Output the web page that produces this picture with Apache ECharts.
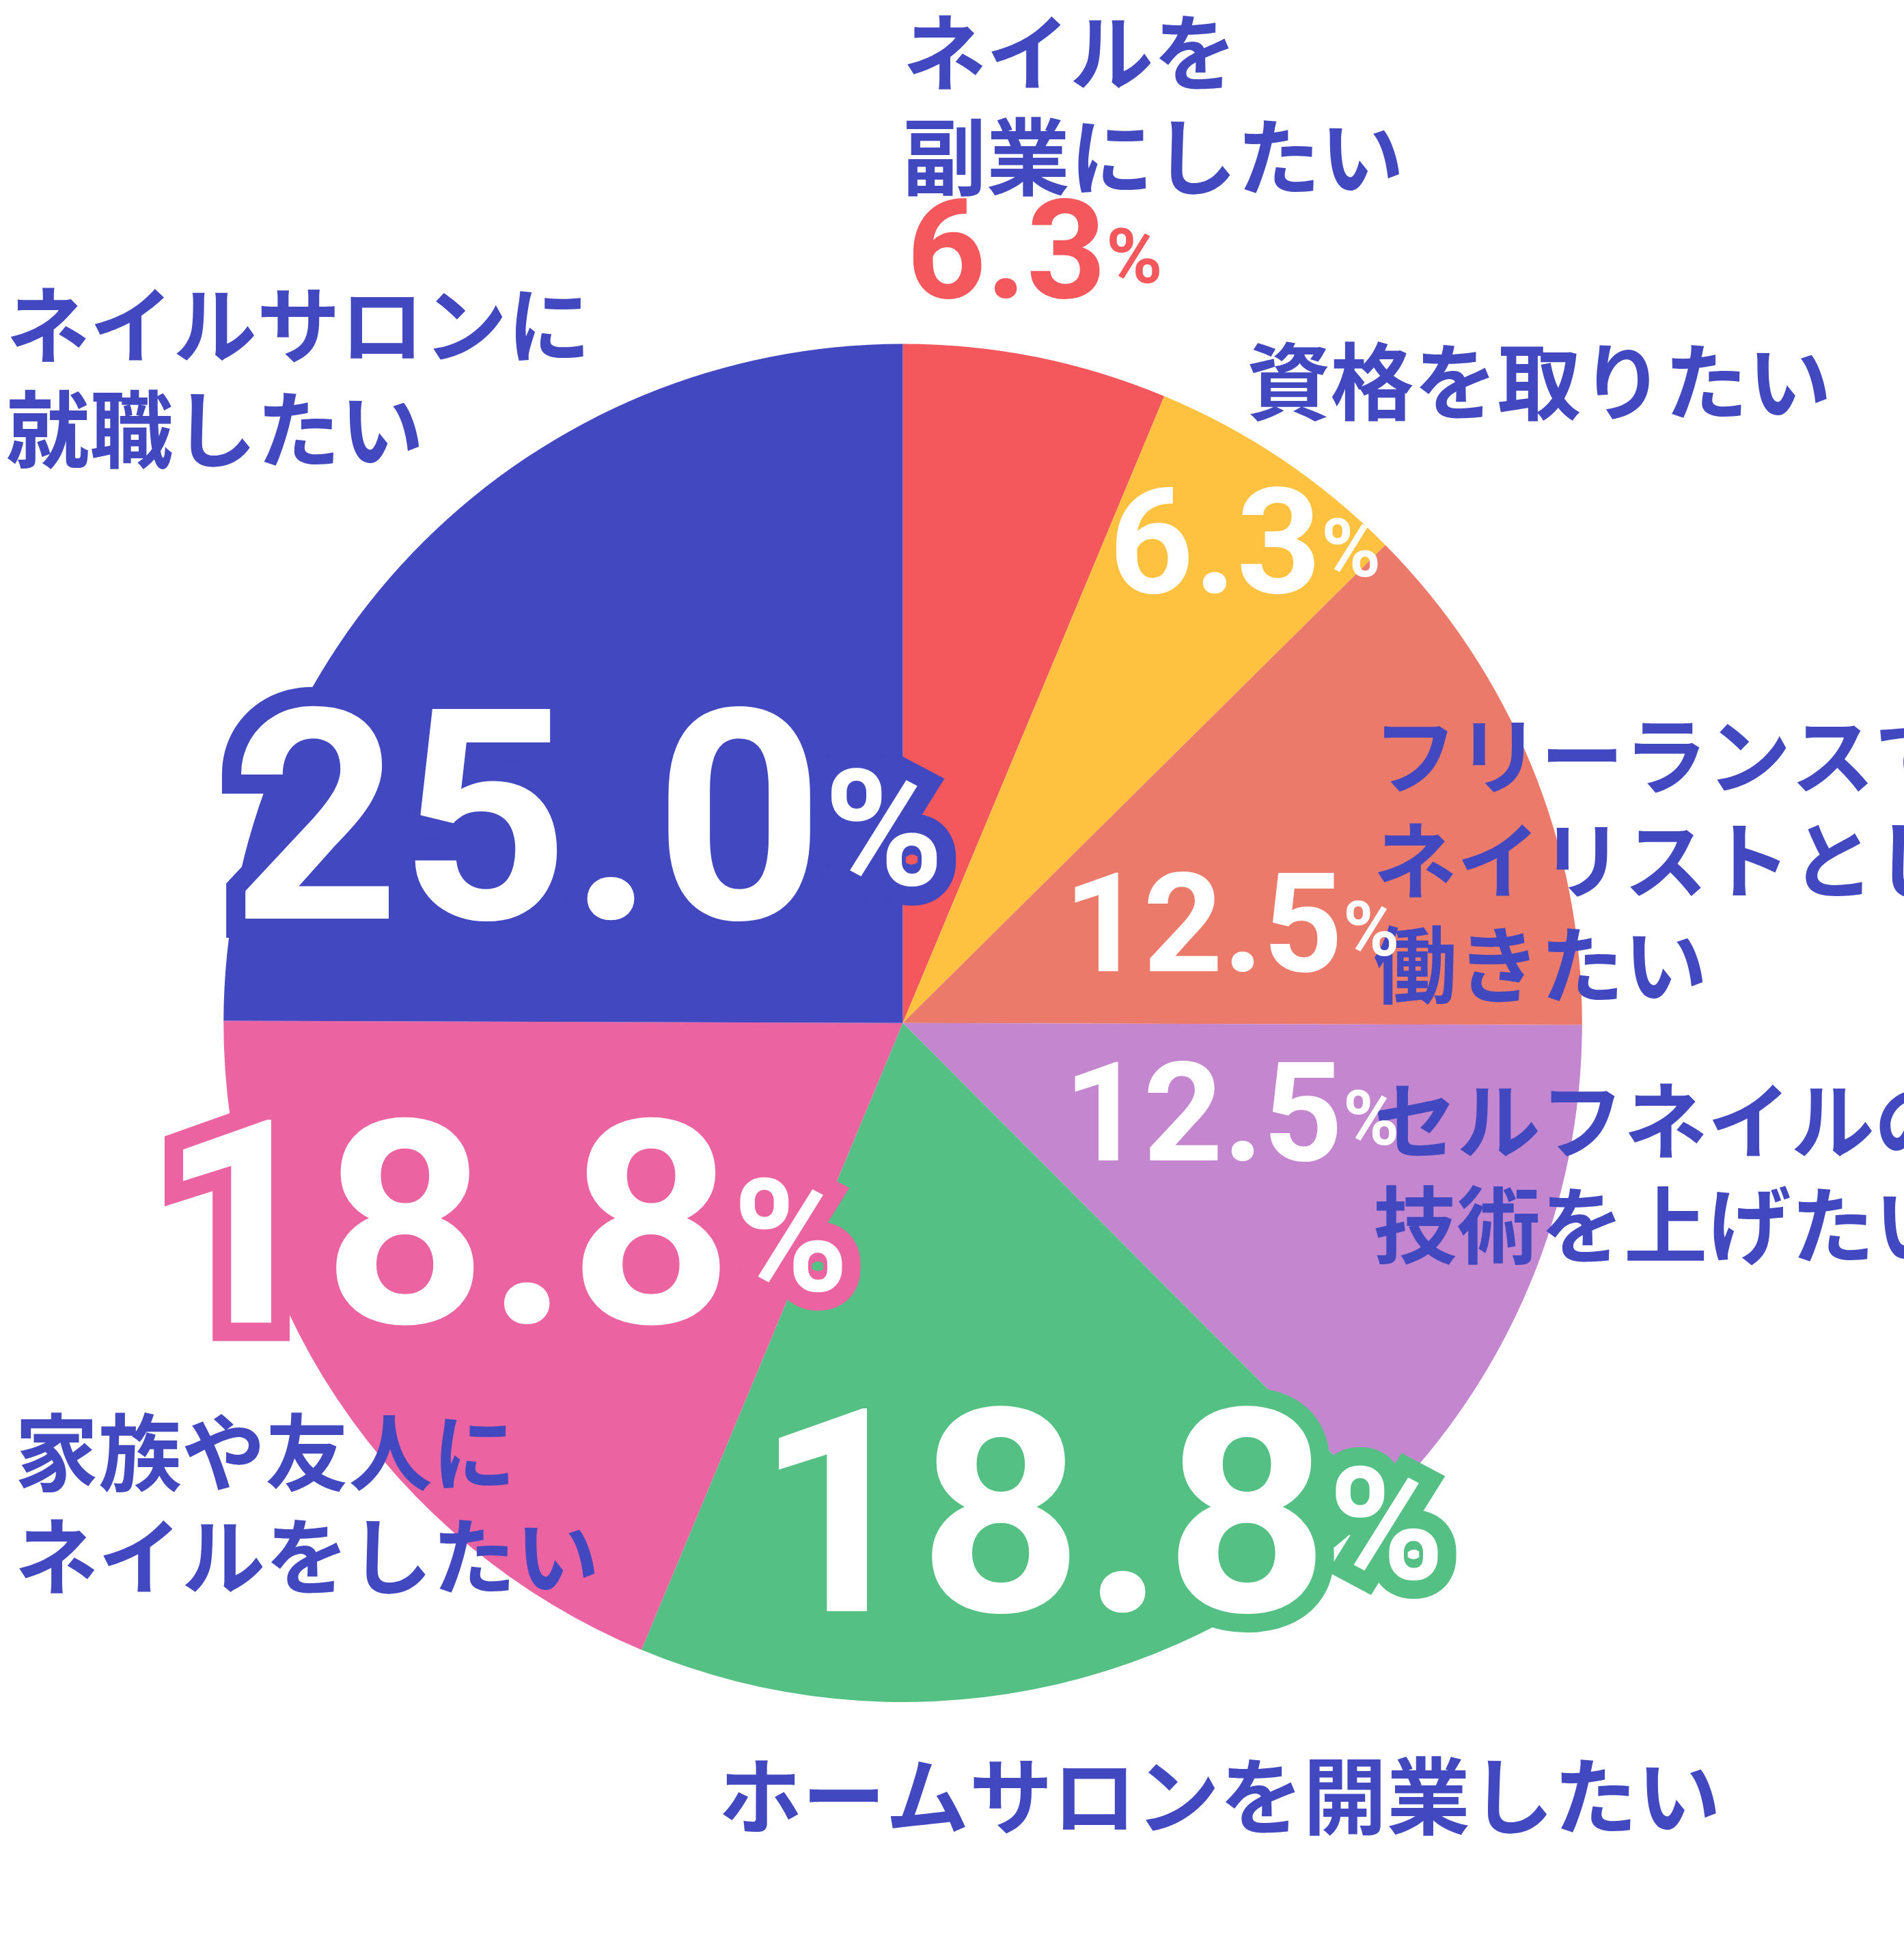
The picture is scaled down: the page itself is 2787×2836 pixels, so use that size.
<!DOCTYPE html>
<html><head><meta charset="utf-8">
<script src="https://cdn.jsdelivr.net/npm/echarts@6/dist/echarts.min.js"></script>
<style>html,body{margin:0;padding:0;background:#fff}#c{width:2787px;height:2836px}</style>
</head><body><div id="c"></div>
<script>
const categories = ['ネイルを\n副業にしたい','資格を取りたい','フリーランスで\nネイリストとして\n働きたい','セルフネイルの\n技術を上げたい','ホームサロンを開業したい','家族や友人に\nネイルをしたい','ネイルサロンに\n就職したい'];
const values = [6.3, 6.3, 12.5, 12.5, 18.8, 18.8, 25.0];
const colors = ['#F4585C','#FEC240','#EC7A6A','#C586D0','#55C083','#EB63A0','#4148C0'];

const S = 1.798;
const TXT = '#4148C0';
// [labelX, labelY, pctX, pctY, pctFont, pctColor, strokeColor]
const layout = [
  [735,0, 738,158, 113,'#F4585C',null],
  [1015,268, 903,393, 120,'#fff',null],
  [1118,573, 866,706, 113,'#fff',null],
  [1118,870, 866,860, 113,'#fff',null],
  [585,1420, 615,1138, 232,'#fff','#55C083'],
  [12,1140, 130,903, 232,'#fff','#EB63A0'],
  [5,222, 188,568, 240,'#fff','#4148C0']
];
const FJ = '"Noto Sans CJK JP"';
const graphics = [];
values.forEach((v,i)=>{
  const L = layout[i];
  graphics.push({type:'text', z:100, x:L[0]*S, y:L[1]*S, style:{
    text:categories[i], fill:TXT, font:'bold '+(68*S)+'px '+FJ, lineHeight:85*S, verticalAlign:'top'}});
  const f = L[4]*S;
  const mk = (stroke)=>{
    const b = {fill: stroke ? stroke : L[5], fontFamily:'Roboto', fontWeight:'bold'};
    if (stroke) { b.stroke = stroke; b.lineWidth = f*0.13; }
    return {type:'text', z: stroke ? 99 : 101, x:L[2]*S, y:L[3]*S, style:{
      text:'{n|'+v.toFixed(1)+'}{p|%}', verticalAlign:'top',
      rich:{ n:Object.assign({}, b, {fontSize:f, lineHeight:f}),
             p:Object.assign({}, b, {fontSize:f*0.55, lineHeight:f*0.8}) }}};
  };
  if (L[6]) graphics.push(mk(L[6]));
  graphics.push(mk(null));
});

const chart = echarts.init(document.getElementById('c'), null, {renderer:'canvas'});
chart.setOption({
  animation:false,
  series:[{type:'pie', z:2, center:[735*S,833*S], radius:[0,553*S], startAngle:90, clockwise:true,
    label:{show:false}, labelLine:{show:false}, emphasis:{disabled:true},
    data: values.map((v,i)=>({name:categories[i], value:v, itemStyle:{color:colors[i]}}))}],
  graphic: graphics
});
</script></body></html>
